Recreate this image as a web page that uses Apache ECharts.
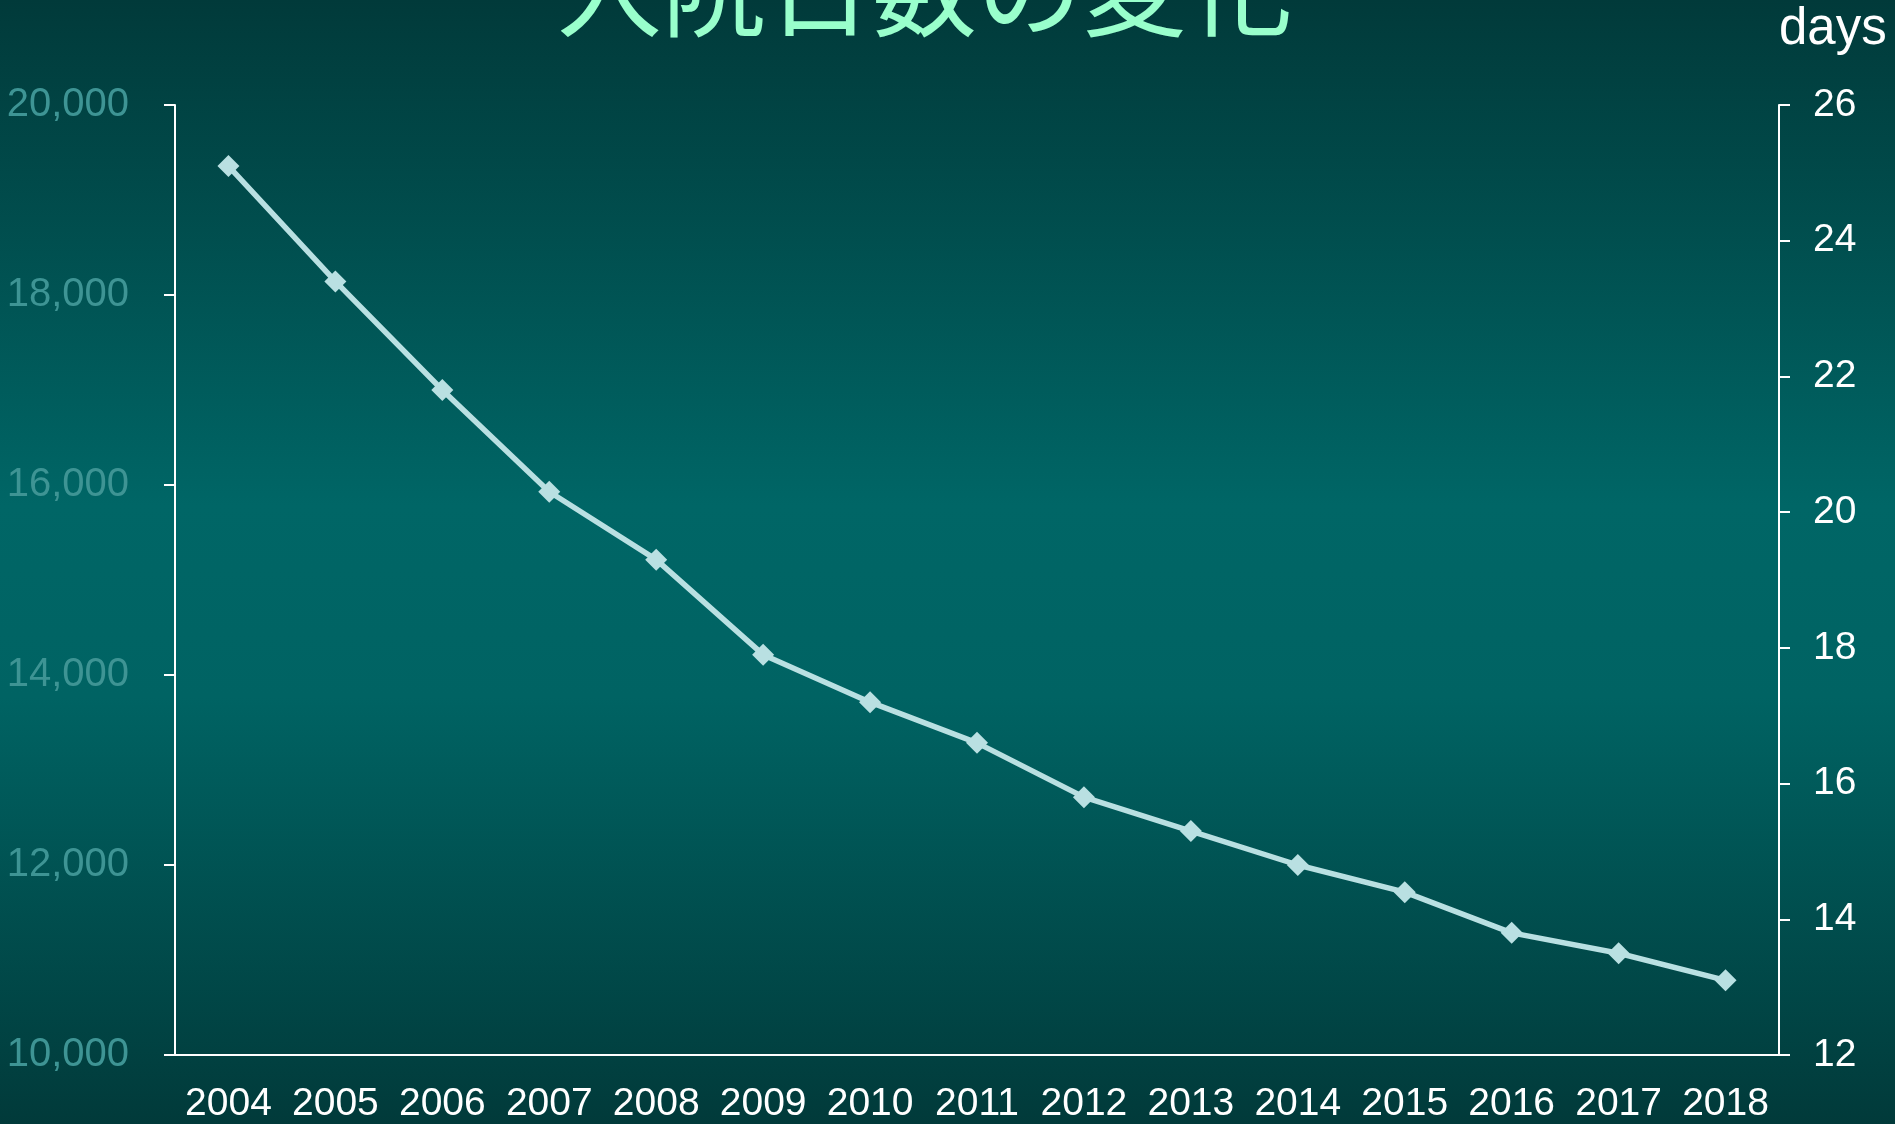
<!DOCTYPE html>
<html>
<head>
<meta charset="utf-8">
<title>入院日数の変化</title>
<script src="https://cdn.jsdelivr.net/npm/echarts@6/dist/echarts.min.js"></script>
<style>
    html, body {
        margin: 0;
        padding: 0;
        overflow: hidden;
    }
    #chart {
        width: 1895px;
        height: 1124px;
    }
</style>
</head>
<body>
<div id="chart"></div>
<script>
// データ
const years = ["2004", "2005", "2006", "2007", "2008", "2009", "2010", "2011",
    "2012", "2013", "2014", "2015", "2016", "2017", "2018"];
const stayDays = [25.1, 23.4, 21.8, 20.3, 19.3, 17.9, 17.2, 16.6,
    15.8, 15.3, 14.8, 14.4, 13.8, 13.5, 13.1];
const leftTicks = [10000, 20000, 2000];   // min, max, interval
const rightTicks = [12, 26, 2];

const labelFont = "'Liberation Sans', Arial, sans-serif";
const axisColor = "#ffffff";

const chart = echarts.init(document.getElementById("chart"));

const option = {
    backgroundColor: new echarts.graphic.LinearGradient(0, 0, 0, 1, [
        { offset: 0, color: "#013a3a" },
        { offset: 0.45, color: "#006666" },
        { offset: 0.62, color: "#006363" },
        { offset: 1, color: "#013a3a" },
    ]),
    animation: false,
    title: {
        text: "入院日数の変化",
        left: 552,
        top: -69,
        textStyle: {
            color: "#99ffcc",
            fontSize: 105,
            fontWeight: "normal",
            fontFamily: "'Noto Sans CJK JP', sans-serif",
        },
    },
    grid: {
        left: 175,
        right: 116,
        top: 105,
        bottom: 67,
    },
    xAxis: {
        type: "category",
        data: years,
        boundaryGap: true,
        axisLine: { lineStyle: { color: axisColor, width: 2 } },
        axisTick: { length: 12, lineStyle: { color: axisColor, width: 2 } },
        axisLabel: {
            color: "#ffffff",
            fontSize: 39,
            fontFamily: labelFont,
            margin: 30,
            interval: 0,
        },
        splitLine: { show: false },
    },
    yAxis: [
        {
            type: "value",
            position: "left",
            min: leftTicks[0],
            max: leftTicks[1],
            interval: leftTicks[2],
            axisLine: { show: true, lineStyle: { color: axisColor, width: 2 } },
            axisTick: { show: true, length: 11, lineStyle: { color: axisColor, width: 2 } },
            axisLabel: {
                color: "#3e9494",
                fontSize: 40,
                fontFamily: labelFont,
                margin: 46,
                padding: [10, 0, 0, 0],
                formatter: (v) => v.toLocaleString("en-US"),
            },
            splitLine: { show: false },
        },
        {
            type: "value",
            position: "right",
            min: rightTicks[0],
            max: rightTicks[1],
            interval: rightTicks[2],
            name: "days",
            nameLocation: "end",
            nameGap: 50,
            nameTextStyle: {
                color: "#ffffff",
                fontSize: 51,
                fontFamily: labelFont,
                align: "left",
                verticalAlign: "bottom",
            },
            axisLine: { show: true, lineStyle: { color: axisColor, width: 2 } },
            axisTick: { show: true, length: 11, lineStyle: { color: axisColor, width: 2 } },
            axisLabel: {
                color: "#ffffff",
                fontSize: 39,
                fontFamily: labelFont,
                margin: 34,
                padding: [10, 0, 0, 0],
            },
            splitLine: { show: false },
        },
    ],
    series: [
        {
            name: "入院日数",
            type: "line",
            yAxisIndex: 1,
            data: stayDays,
            symbol: "diamond",
            symbolSize: 22,
            lineStyle: { color: "#b9e0e2", width: 5.5 },
            itemStyle: { color: "#b9e0e2" },
        },
    ],
};

chart.setOption(option);
</script>
</body>
</html>
